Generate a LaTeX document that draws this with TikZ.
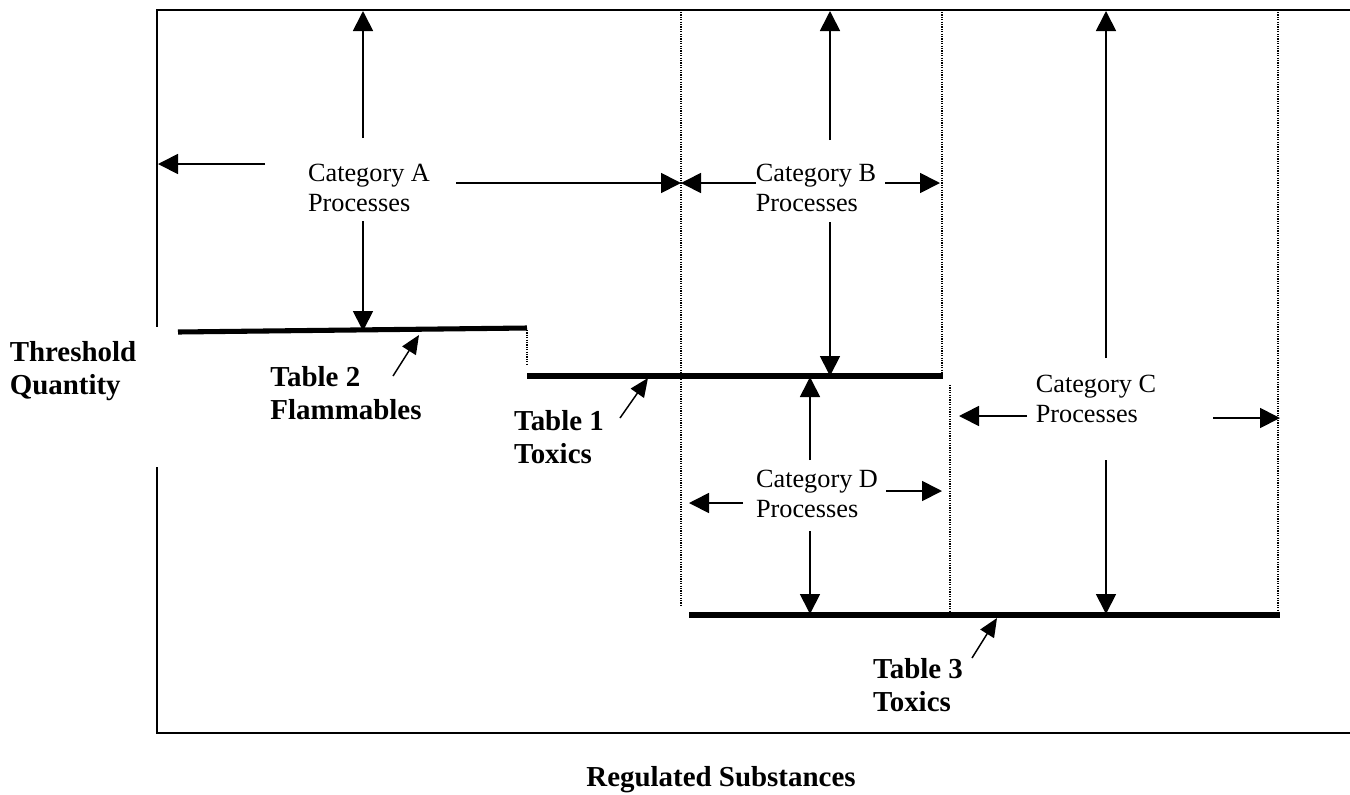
\documentclass[tikz,border=0pt]{standalone}
\usepackage{fontspec}
\setmainfont{Liberation Serif}
\usetikzlibrary{arrows.meta}
\tikzset{
  frame/.style={line width=1.5pt, line cap=rect},
  level/.style={line width=3.8pt},
  guide/.style={line width=0.9pt, dash pattern=on 0.9pt off 0.9pt},
  catarrow/.style={line width=1.3pt, -{Triangle[length=15pt,width=15pt]}},
  tabarrow/.style={line width=1.1pt, -{Triangle[length=14pt,width=12pt]}},
  cattext/.style={font=\fontsize{19.7}{22.5}\selectfont, align=left, inner sep=0pt},
  tabtext/.style={font=\fontsize{21.7}{24.8}\selectfont\bfseries, align=left, inner sep=0pt},
}
\begin{document}
\begin{tikzpicture}[x=0.75pt, y=-0.75pt]
\useasboundingbox (0,0) rectangle (1350,794);
% frame
\draw[frame] (157,326) -- (157,10) -- (1352,10);
\draw[frame] (157,468) -- (157,733) -- (1352,733);
% guide lines
\draw[guide] (527,330) -- (527,365);
\draw[guide] (681,12) -- (681,607);
\draw[guide] (942,12) -- (942,374);
\draw[guide] (950,385) -- (950,612);
\draw[guide] (1278,12) -- (1278,612);
% threshold levels
\coordinate (t2a) at (178,332);
\coordinate (t2b) at (527,328);
\coordinate (t1a) at (527,376);
\coordinate (t1b) at (943,376);
\coordinate (t3a) at (689,615);
\coordinate (t3b) at (1280,615);
\draw[level] (t2a) -- (t2b);
\draw[level] (t1a) -- (t1b);
\draw[level] (t3a) -- (t3b);
% labels
\node[cattext] (catA) at (369,188) {Category A\\Processes};
\node[cattext] (catB) at (816,188) {Category B\\Processes};
\node[cattext] (catD) at (817,494) {Category D\\Processes};
\node[cattext] (catC) at (1096,399) {Category C\\Processes};
\node[tabtext] (tab2) at (346,393) {Table 2\\Flammables};
\node[tabtext] (tab1) at (559,437) {Table 1\\Toxics};
\node[tabtext] (tab3) at (918,685) {Table 3\\Toxics};
\node[tabtext] (thr) at (73,371) {Threshold\\Quantity};
\node[tabtext, anchor=base] (reg) at (721,786) {Regulated Substances};
% Category A arrows
\coordinate (aU0) at (363,138); \coordinate (aU1) at (363,11);
\coordinate (aL0) at (265,164); \coordinate (aL1) at (158,164);
\coordinate (aR0) at (456,183); \coordinate (aR1) at (681,183);
\coordinate (aD0) at (363,221); \coordinate (aD1) at (363,331);
\draw[catarrow] (aU0) -- (aU1);
\draw[catarrow] (aL0) -- (aL1);
\draw[catarrow] (aR0) -- (aR1);
\draw[catarrow] (aD0) -- (aD1);
% Category B arrows
\coordinate (bU0) at (830,140); \coordinate (bU1) at (830,11);
\coordinate (bL0) at (756,183); \coordinate (bL1) at (681,183);
\coordinate (bR0) at (885,183); \coordinate (bR1) at (940,183);
\coordinate (bD0) at (830,222); \coordinate (bD1) at (830,376);
\draw[catarrow] (bU0) -- (bU1);
\draw[catarrow] (bL0) -- (bL1);
\draw[catarrow] (bR0) -- (bR1);
\draw[catarrow] (bD0) -- (bD1);
% Category D arrows
\coordinate (dU0) at (810,460); \coordinate (dU1) at (810,377);
\coordinate (dL0) at (743,503); \coordinate (dL1) at (689,503);
\coordinate (dR0) at (886,491); \coordinate (dR1) at (942,491);
\coordinate (dD0) at (810,531); \coordinate (dD1) at (810,614);
\draw[catarrow] (dU0) -- (dU1);
\draw[catarrow] (dL0) -- (dL1);
\draw[catarrow] (dR0) -- (dR1);
\draw[catarrow] (dD0) -- (dD1);
% Category C arrows
\coordinate (cU0) at (1106,358); \coordinate (cU1) at (1106,11);
\coordinate (cL0) at (1027,416); \coordinate (cL1) at (959,416);
\coordinate (cR0) at (1213,418); \coordinate (cR1) at (1280,418);
\coordinate (cD0) at (1106,460); \coordinate (cD1) at (1106,614);
\draw[catarrow] (cU0) -- (cU1);
\draw[catarrow] (cL0) -- (cL1);
\draw[catarrow] (cR0) -- (cR1);
\draw[catarrow] (cD0) -- (cD1);
% table pointers
\coordinate (p2a) at (393,376); \coordinate (p2b) at (419,335);
\coordinate (p1a) at (620,418); \coordinate (p1b) at (648,378);
\coordinate (p3a) at (972,658); \coordinate (p3b) at (997,618);
\draw[tabarrow] (p2a) -- (p2b);
\draw[tabarrow] (p1a) -- (p1b);
\draw[tabarrow] (p3a) -- (p3b);
\end{tikzpicture}
\end{document}
